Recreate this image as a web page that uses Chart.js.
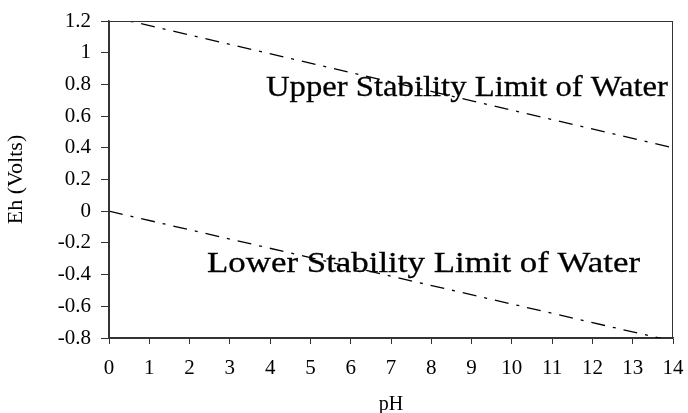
<!DOCTYPE html>
<html>
<head>
<meta charset="utf-8">
<script src="https://cdn.jsdelivr.net/npm/chart.js@4"></script>
<style>
html,body{margin:0;padding:0;background:#fff;}
#wrap{width:688px;height:413px;}
</style>
</head>
<body>
<div id="wrap"><canvas id="c" width="688" height="413"></canvas></div>
<script>
// Data
const pH = [0, 14];
const upperLimit = [1.23, 0.40];
const lowerLimit = [0.00, -0.82];
const xTicks = [0,1,2,3,4,5,6,7,8,9,10,11,12,13,14];
const yTicks = [-0.8,-0.6,-0.4,-0.2,0,0.2,0.4,0.6,0.8,1,1.2];
const yTickLabels = ['-0.8','-0.6','-0.4','-0.2','0','0.2','0.4','0.6','0.8','1','1.2'];
const labels = { upper: 'Upper Stability Limit of Water', lower: 'Lower Stability Limit of Water' };

const serif = "'Liberation Serif', 'Times New Roman', serif";
const axisColor = '#333';

const annot = {
  id: 'annot',
  afterDatasetsDraw(chart) {
    const {ctx, chartArea: a} = chart;
    ctx.save();
    ctx.strokeStyle = axisColor;
    ctx.lineWidth = 1;
    ctx.strokeRect(a.left + 0.5, a.top + 0.5, a.right - a.left - 1, a.bottom - a.top);
    ctx.restore();
    const drawT = (txt, x, y, w) => {
      ctx.save();
      ctx.font = "30px " + serif;
      const m = ctx.measureText(txt).width;
      ctx.translate(x, y);
      ctx.scale(w / m, 1);
      ctx.fillStyle = '#000';
      ctx.strokeStyle = '#000';
      ctx.lineWidth = 0.3;
      ctx.textBaseline = 'alphabetic';
      ctx.fillText(txt, 0, 0);
      ctx.strokeText(txt, 0, 0);
      ctx.restore();
    };
    drawT(labels.upper, 266, 96, 402);
    drawT(labels.lower, 207, 272, 433);
  }
};

new Chart(document.getElementById('c'), {
  type: 'line',
  data: {
    datasets: [
      { data: pH.map((x,i)=>({x, y: upperLimit[i]})), borderColor:'#000', borderWidth:1.3, borderDash:[14,8,3,8], pointRadius:0, fill:false },
      { data: pH.map((x,i)=>({x, y: lowerLimit[i]})), borderColor:'#000', borderWidth:1.3, borderDash:[14,8,3,8], pointRadius:0, fill:false }
    ]
  },
  options: {
    responsive:false, animation:false,
    layout:{ padding:{ left:0, right:15, top:21, bottom:0 } },
    plugins:{ legend:{display:false}, tooltip:{enabled:false} },
    scales:{
      x:{
        type:'linear', min:0, max:14,
        afterBuildTicks(s){ s.ticks = xTicks.map(v=>({value:v})); },
        afterFit(s){ s.height = 75; s.paddingRight = 0; s.paddingLeft = 0; },
        grid:{ drawOnChartArea:false, drawTicks:true, tickLength:6, color:axisColor },
        border:{ display:true, color:axisColor, width:1.5 },
        ticks:{ color:'#000', font:{family:serif, size:21}, padding:12, maxRotation:0, autoSkip:false },
        title:{ display:true, text:'pH', color:'#000', font:{family:serif, size:20}, padding:{top:11,bottom:-4} }
      },
      y:{
        type:'linear', min:-0.8, max:1.2,
        afterBuildTicks(s){ s.ticks = yTicks.map(v=>({value:v})); },
        afterFit(s){ s.width = 109; s.paddingTop = 0; s.paddingBottom = 0; },
        grid:{ drawOnChartArea:false, drawTicks:true, tickLength:8, color:axisColor },
        border:{ display:true, color:axisColor, width:1.5 },
        ticks:{ color:'#000', font:{family:serif, size:21}, padding:10, autoSkip:false,
          callback(v){ const i = yTicks.findIndex(t=>Math.abs(t-v)<1e-9); return i>=0 ? yTickLabels[i] : ''; } },
        title:{ display:true, text:'Eh (Volts)', color:'#000', font:{family:serif, size:22}, padding:{top:3,bottom:0} }
      }
    }
  },
  plugins:[annot]
});
</script>
</body>
</html>
